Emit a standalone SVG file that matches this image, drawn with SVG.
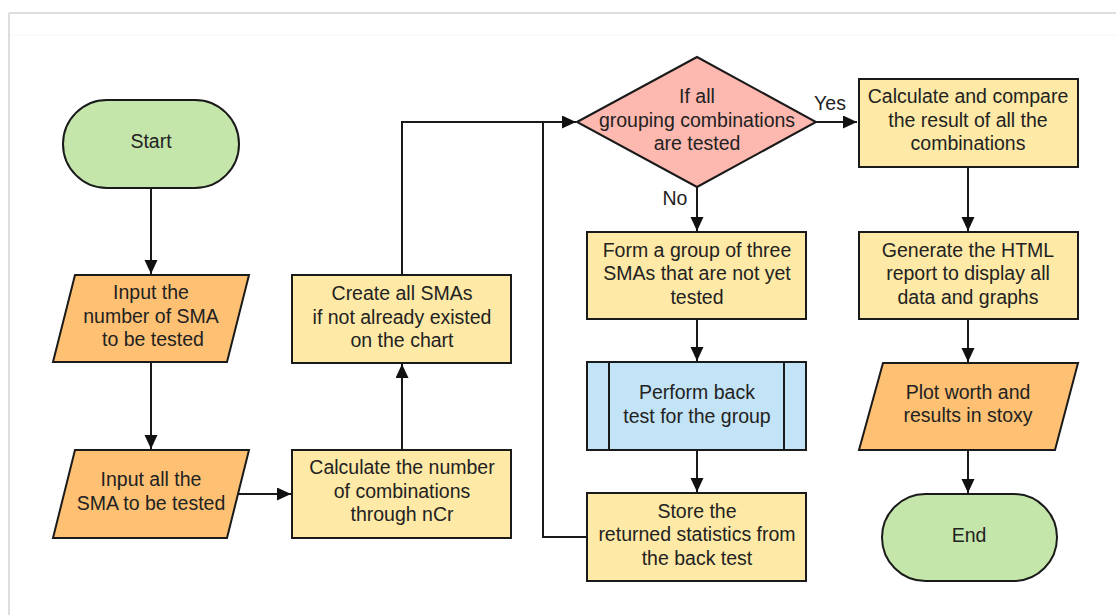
<svg xmlns="http://www.w3.org/2000/svg" width="1116" height="615" viewBox="0 0 1116 615">
<style>
  .t{font-family:"Liberation Sans",Arial,sans-serif;font-size:19.5px;fill:#222;text-anchor:middle}
  .s{stroke:#1a1a1a;stroke-width:2}
  .term{fill:#c5e6aa}
  .io{fill:#fec173}
  .proc{fill:#fee9a6}
  .dec{fill:#fdb8b0}
  .sub{fill:#c3e3f6}
  .c{fill:none;stroke:#1a1a1a;stroke-width:2}
</style>
<defs>
  <marker id="ah" markerUnits="userSpaceOnUse" markerWidth="16" markerHeight="14" refX="14" refY="6.5" orient="auto">
    <path d="M0,0 L14,6.5 L0,13 z" fill="#111"/>
  </marker>
</defs>
<rect width="1116" height="615" fill="#fff"/>
<g id="frame">
  <line x1="9" y1="13" x2="1116" y2="13" stroke="#dedede" stroke-width="2"/>
  <line x1="9" y1="13" x2="9" y2="615" stroke="#dedede" stroke-width="2"/>
  <line x1="10" y1="35" x2="1116" y2="35" stroke="#f6f6f6" stroke-width="1"/>
</g>
<g id="connectors">
  <path class="c" d="M151,188 V274" marker-end="url(#ah)"/>
  <path class="c" d="M151,362 V449" marker-end="url(#ah)"/>
  <path class="c" d="M238,494 H291" marker-end="url(#ah)"/>
  <path class="c" d="M402,450 V364" marker-end="url(#ah)"/>
  <path class="c" d="M402,275 V122 H576" marker-end="url(#ah)"/>
  <path class="c" d="M587,537 H543 V122"/>
  <path class="c" d="M816,122 H857" marker-end="url(#ah)"/>
  <path class="c" d="M697,187 V231" marker-end="url(#ah)"/>
  <path class="c" d="M697,319 V361" marker-end="url(#ah)"/>
  <path class="c" d="M697,450 V492" marker-end="url(#ah)"/>
  <path class="c" d="M968,167 V231" marker-end="url(#ah)"/>
  <path class="c" d="M968,319 V362" marker-end="url(#ah)"/>
  <path class="c" d="M968,450 V493" marker-end="url(#ah)"/>
  <text class="t" x="830" y="110">Yes</text>
  <text class="t" x="675" y="205">No</text>
</g>
<g id="start">
  <rect class="term s" x="63" y="100" width="176" height="88" rx="44" ry="44"/>
  <text class="t" x="151" y="148">Start</text>
</g>
<g id="input-number">
  <polygon class="io s" points="75,275 249,275 227,362 53,362"/>
  <text class="t" x="151" y="299">Input the</text>
  <text class="t" x="151" y="323">number of SMA</text>
  <text class="t" x="153" y="346">to be tested</text>
</g>
<g id="input-all">
  <polygon class="io s" points="75,450 249,450 227,538 53,538"/>
  <text class="t" x="151" y="486">Input all the</text>
  <text class="t" x="151" y="510">SMA to be tested</text>
</g>
<g id="calc-number">
  <rect class="proc s" x="292" y="450" width="219" height="88"/>
  <text class="t" x="402" y="474">Calculate the number</text>
  <text class="t" x="402" y="498">of combinations</text>
  <text class="t" x="402" y="521">through nCr</text>
</g>
<g id="create-smas">
  <rect class="proc s" x="292" y="275" width="219" height="88"/>
  <text class="t" x="402" y="300">Create all SMAs</text>
  <text class="t" x="402" y="324">if not already existed</text>
  <text class="t" x="402" y="347">on the chart</text>
</g>
<g id="decision">
  <polygon class="dec s" points="577,122 697,57 816,122 697,187"/>
  <text class="t" x="697" y="103">If all</text>
  <text class="t" x="697" y="127">grouping combinations</text>
  <text class="t" x="697" y="150">are tested</text>
</g>
<g id="form-group">
  <rect class="proc s" x="587" y="232" width="219" height="87"/>
  <text class="t" x="697" y="257">Form a group of three</text>
  <text class="t" x="697" y="280">SMAs that are not yet</text>
  <text class="t" x="697" y="304">tested</text>
</g>
<g id="perform">
  <rect class="sub s" x="587" y="362" width="219" height="88"/>
  <line class="s" x1="609" y1="362" x2="609" y2="450"/>
  <line class="s" x1="784" y1="362" x2="784" y2="450"/>
  <text class="t" x="697" y="399">Perform back</text>
  <text class="t" x="697" y="423">test for the group</text>
</g>
<g id="store">
  <rect class="proc s" x="587" y="493" width="219" height="88"/>
  <text class="t" x="697" y="518">Store the</text>
  <text class="t" x="697" y="541">returned statistics from</text>
  <text class="t" x="697" y="565">the back test</text>
</g>
<g id="compare">
  <rect class="proc s" x="859" y="79" width="219" height="88"/>
  <text class="t" x="968" y="103">Calculate and compare</text>
  <text class="t" x="968" y="127">the result of all the</text>
  <text class="t" x="968" y="150">combinations</text>
</g>
<g id="report">
  <rect class="proc s" x="859" y="232" width="219" height="87"/>
  <text class="t" x="968" y="257">Generate the HTML</text>
  <text class="t" x="968" y="280">report to display all</text>
  <text class="t" x="968" y="304">data and graphs</text>
</g>
<g id="plot">
  <polygon class="io s" points="883,363 1078,363 1055,450 859,450"/>
  <text class="t" x="968" y="399">Plot worth and</text>
  <text class="t" x="968" y="422">results in stoxy</text>
</g>
<g id="end">
  <rect class="term s" x="882" y="494" width="175" height="87" rx="43.5" ry="43.5"/>
  <text class="t" x="969" y="542">End</text>
</g>
</svg>
